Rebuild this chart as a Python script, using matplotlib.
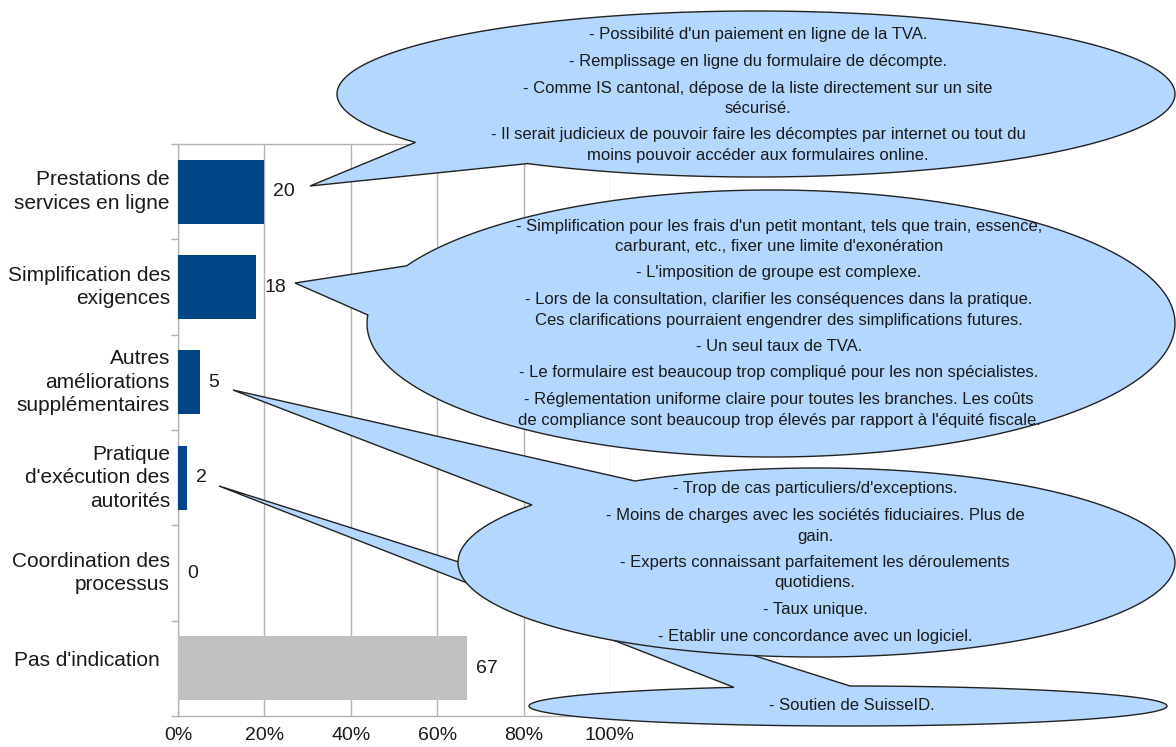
import numpy as np
import matplotlib
matplotlib.use("Agg")
import matplotlib.pyplot as plt
import matplotlib.transforms as mtransforms
from matplotlib.path import Path
from matplotlib.patches import PathPatch

plt.rcParams['font.family'] = ['Liberation Sans', 'DejaVu Sans']

# ---------------- data ----------------
categories = ["Prestations de\nservices en ligne",
              "Simplification des\nexigences",
              "Autres\naméliorations\nsupplémentaires",
              "Pratique\nd'exécution des\nautorités",
              "Coordination des\nprocessus",
              "Pas d'indication"]
values = [20, 18, 5, 2, 0, 67]
bar_colors = ["#004586", "#004586", "#004586", "#004586", "#004586", "#c0c0c0"]
xticks = [0, 20, 40, 60, 80, 100]
xtick_labels = ["0%", "20%", "40%", "60%", "80%", "100%"]

comments_services = [
    "- Possibilité d'un paiement en ligne de la TVA.",
    "- Remplissage en ligne du formulaire de décompte.",
    "- Comme IS cantonal, dépose de la liste directement sur un site\nsécurisé.",
    "- Il serait judicieux de pouvoir faire les décomptes par internet ou tout du\nmoins pouvoir accéder aux formulaires online.",
]
comments_simplification = [
    "- Simplification pour les frais d'un petit montant, tels que train, essence,\ncarburant, etc., fixer une limite d'exonération",
    "- L'imposition de groupe est complexe.",
    "- Lors de la consultation, clarifier les conséquences dans la pratique.\nCes clarifications pourraient engendrer des simplifications futures.",
    "- Un seul taux de TVA.",
    "- Le formulaire est beaucoup trop compliqué pour les non spécialistes.",
    "- Réglementation uniforme claire pour toutes les branches. Les coûts\nde compliance sont beaucoup trop élevés par rapport à l'équité fiscale.",
]
comments_autres = [
    "- Trop de cas particuliers/d'exceptions.",
    "- Moins de charges avec les sociétés fiduciaires. Plus de\ngain.",
    "- Experts connaissant parfaitement les déroulements\nquotidiens.",
    "- Taux unique.",
    "- Etablir une concordance avec un logiciel.",
]
comments_pratique = [
    "- Soutien de SuisseID.",
]

# ---------------- figure ----------------
W, H = 1176, 747
fig = plt.figure(figsize=(W / 100, H / 100), dpi=100)
ax = fig.add_axes([178 / W, (H - 716) / H, (610 - 178) / W, (716 - 144) / H])

y = np.arange(len(categories))
ax.barh(y, values, height=0.67, color=bar_colors, zorder=3)
ax.set_xlim(0, 100)
ax.set_ylim(len(categories) - 0.5, -0.5)

ax.set_xticks(xticks)
ax.set_xticklabels(xtick_labels, fontsize=14)
ax.tick_params(axis='x', length=0, pad=8, colors='#1a1a1a')
ax.xaxis.grid(True, color='#b3b3b3', linewidth=1, zorder=0)
ax.set_axisbelow(True)

ax.set_yticks(y)
ax.set_yticklabels([])
ax.tick_params(axis='y', which='major', length=0)
ax.set_yticks(np.arange(len(categories) + 1) - 0.5, minor=True)
ax.tick_params(axis='y', which='minor', length=5, color='#b3b3b3', width=1)

for s in ax.spines.values():
    s.set_color('#b3b3b3')
    s.set_linewidth(1)
ax.spines['right'].set_visible(False)

# category labels
trans = mtransforms.blended_transform_factory(ax.transAxes, ax.transData)
for i, lab in enumerate(categories):
    dx, dy = -8, 0
    if i == len(categories) - 1:
        dx, dy = -18, 8
    off = mtransforms.offset_copy(trans, fig=fig, x=dx, y=dy, units='dots')
    ax.text(0, y[i], lab, transform=off, ha='right', va='center',
            multialignment='right', fontsize=15, color='#1a1a1a', linespacing=1.3)

# value labels
for i, v in enumerate(values):
    off = mtransforms.offset_copy(ax.transData, fig=fig, x=9, y=0, units='dots')
    ax.text(v, y[i], str(v), transform=off, ha='left', va='center',
            fontsize=14, color='#1a1a1a')

# ---------------- callouts (overlay in pixel coords) ----------------
ov = fig.add_axes([0, 0, 1, 1], zorder=5)
ov.set_xlim(0, W)
ov.set_ylim(H, 0)
ov.axis('off')
ov.patch.set_alpha(0)


def callout_path(cx, cy, a, b, p1, p2, tip, n=400):
    def ang(p):
        return np.arctan2((p[1] - cy) / b, (p[0] - cx) / a)
    t1, t2, tt = ang(p1), ang(p2), ang(tip)
    twopi = 2 * np.pi
    d12 = (t2 - t1) % twopi
    d1t = (tt - t1) % twopi
    if d1t < d12:
        ts = np.linspace(t2, t2 + (t1 - t2) % twopi, n)
    else:
        ts = np.linspace(t1, t1 + d12, n)
    xs = cx + a * np.cos(ts)
    ys = cy + b * np.sin(ts)
    verts = list(zip(xs, ys)) + [tip, (xs[0], ys[0])]
    codes = [Path.MOVETO] + [Path.LINETO] * (len(verts) - 2) + [Path.CLOSEPOLY]
    return Path(verts, codes)


fill = '#b4d7ff'
edge = '#222222'

callouts = [
    (848, 706, 319, 20, (732, 687), (850, 687), (219, 486), 852, 705, comments_pratique),
    (816.5, 562.5, 358.5, 94.5, (532, 505), (635, 481), (233, 390), 815, 489, comments_autres),
    (771, 323.5, 404, 133.5, (408, 266), (368, 315), (295, 283), 779, 226, comments_simplification),
    (756, 94, 419, 83, (411, 143), (523, 165), (310, 186), 758, 35, comments_services),
]

z = 10
for cx, cy, a, b, p1, p2, tip, tx, ty0, items in callouts:
    path = callout_path(cx, cy, a, b, p1, p2, tip)
    ov.add_patch(PathPatch(path, facecolor=fill, edgecolor=edge, linewidth=1.0, zorder=z))
    yy = ty0
    for item in items:
        for line in item.split("\n"):
            ov.text(tx, yy, line, ha='center', va='center', fontsize=12,
                    color='#1a1a1a', zorder=z + 1)
            yy += 20.5
        yy += 6
    z += 2

fig.savefig("out.png", dpi=100)
